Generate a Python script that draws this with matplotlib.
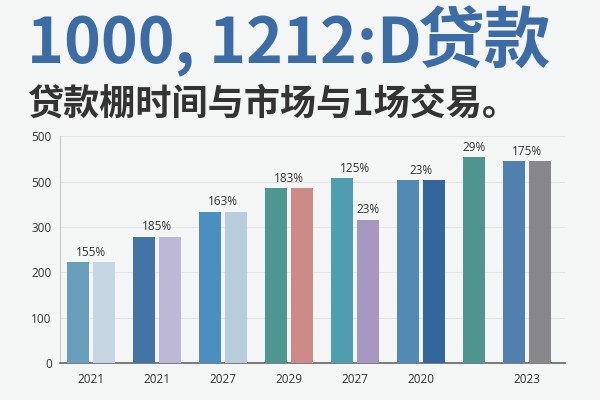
import matplotlib as mpl
mpl.use("Agg")
import matplotlib.pyplot as plt

# data
years = ["2021", "2021", "2027", "2029", "2027", "2020", "", "2023"]
values = [
    [222, 222],
    [278, 278],
    [334, 334],
    [385, 385],
    [407, 316],
    [403, 403],
    [454],
    [445, 445],
]
group_labels = ["155%", "185%", "163%", "183%", "125%", "23%", "29%", "175%"]
second_labels = [None, None, None, None, "23%", None, None, None]
ytick_values = [0, 100, 200, 300, 400, 500]
ytick_labels = ["0", "100", "200", "300", "500", "500"]

colors = [
    ["#6a9fbb", "#c5d6e2"],
    ["#4374a6", "#bdb8d6"],
    ["#4a8fc0", "#b8ccdb"],
    ["#4e9790", "#cc8b86"],
    ["#4f9db0", "#a597c0"],
    ["#5289b5", "#33679c"],
    ["#4f958f"],
    ["#4f80ae", "#87868b"],
]

bg = "#f4f5f5"
plt.rcParams["font.family"] = ["Open Sans", "Noto Sans CJK SC", "DejaVu Sans"]

fig = plt.figure(figsize=(6, 4), dpi=100, facecolor=bg)
ax = fig.add_axes([0.1, 0.0918, 0.8417, 0.568])
ax.set_facecolor(bg)

pitch = 26.0
width = 22.0
gap = 40.0

left = 0.0
centers = []
for g, vals in enumerate(values):
    xs = []
    for i, v in enumerate(vals):
        x = left + i * pitch + width / 2
        ax.bar(x, v, width=width, color=colors[g][i], zorder=3)
        xs.append(x)
    center = sum(xs) / len(xs)
    centers.append(center)
    ax.annotate(group_labels[g], (center, max(vals)), xytext=(0, 2.5),
                textcoords="offset points", ha="center", va="bottom",
                fontsize=8.5, color="#333333")
    if second_labels[g] and len(vals) > 1:
        ax.annotate(second_labels[g], (xs[1], vals[1]), xytext=(0, 2.5),
                    textcoords="offset points", ha="center", va="bottom",
                    fontsize=8.5, color="#333333")
    left = left + (len(vals) - 1) * pitch + gap

ax.set_xlim(-6.7, 498.3)
ax.set_ylim(0, 500)
ax.set_xticks(centers)
ax.set_xticklabels(years)
ax.set_yticks(ytick_values)
ax.set_yticklabels(ytick_labels)
ax.tick_params(axis="both", length=0, labelsize=8.5, colors="#333333")
ax.tick_params(axis="y", pad=6)
ax.tick_params(axis="x", pad=7)
ax.grid(axis="y", color="#e2e4e5", lw=0.8, zorder=0)

for s in ["top", "right"]:
    ax.spines[s].set_visible(False)
ax.spines["left"].set_color("#c8c8c8")
ax.spines["left"].set_linewidth(0.8)
ax.spines["bottom"].set_color("#666666")
ax.spines["bottom"].set_linewidth(1.2)

# headline: latin part and CJK part set separately so widths match
fig.text(27 / 600, 1 - 63 / 400, "1000, 1212:D", fontsize=45, fontweight="bold",
         family=["Noto Sans CJK SC", "DejaVu Sans"], color="#3b6ca6",
         ha="left", va="baseline")
fig.text(417 / 600, 1 - 63 / 400, "贷款", fontsize=48, fontweight="bold",
         family=["Noto Sans CJK SC", "DejaVu Sans"], color="#3b6ca6",
         ha="left", va="baseline")
fig.text(28 / 600, 1 - 104 / 400, "贷款棚时间与市场与1场交易。", fontsize=26,
         fontweight="bold", family=["Noto Sans CJK SC", "DejaVu Sans"],
         color="#333333", ha="left", va="center")

fig.savefig("out.png", dpi=100, facecolor=bg)
